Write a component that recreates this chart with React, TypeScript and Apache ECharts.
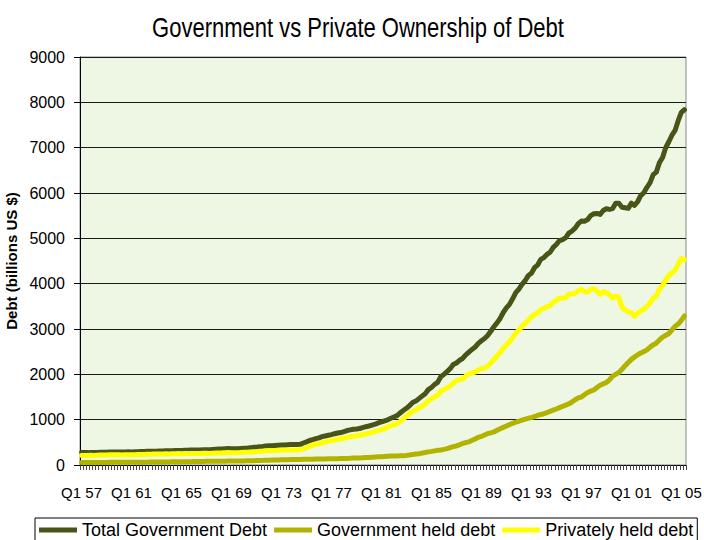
import React, { useEffect, useRef } from "react";
import * as echarts from "echarts";

const START_YEAR = 1957;
const N_QUARTERS = 194;

// Total Government Debt (billions US $), quarterly from Q1 1957
const totalDebt = [
  275, 274, 273, 277, 274, 277, 280, 283, 283, 287, 289, 288,
  287, 286, 288, 290, 289, 291, 294, 298, 298, 301, 303, 306,
  306, 309, 310, 313, 313, 316, 318, 321, 321, 323, 324, 329,
  329, 330, 333, 337, 337, 337, 344, 350, 351, 353, 357, 362,
  359, 358, 360, 366, 370, 372, 381, 389, 393, 403, 410, 419,
  422, 424, 430, 437, 440, 443, 446, 450, 453, 454, 456, 485,
  510, 540, 560, 580, 600, 625, 640, 655, 670, 690, 705, 715,
  735, 760, 775, 790, 795, 805, 826, 845, 860, 880, 900, 930,
  950, 975, 998, 1030, 1060, 1090, 1150, 1200, 1250, 1310, 1377, 1410,
  1465, 1520, 1573, 1663, 1710, 1775, 1823, 1945, 2000, 2060, 2125, 2215,
  2250, 2310, 2350, 2430, 2490, 2550, 2602, 2684, 2740, 2790, 2857, 2950,
  3050, 3135, 3233, 3364, 3466, 3545, 3665, 3801, 3881, 3985, 4064, 4177,
  4230, 4352, 4411, 4536, 4576, 4646, 4693, 4800, 4864, 4951, 4974, 5017,
  5117, 5161, 5225, 5323, 5380, 5376, 5413, 5502, 5542, 5548, 5526, 5614,
  5651, 5638, 5656, 5776, 5773, 5686, 5674, 5662, 5774, 5726, 5807, 5943,
  6006, 6126, 6228, 6405, 6460, 6670, 6783, 6998, 7131, 7274, 7379, 7596,
  7777, 7836,
];

// Government held debt
const govHeld = [
  55, 55, 56, 56, 56, 56, 57, 57, 57, 58, 58, 58,
  59, 59, 60, 60, 61, 61, 62, 62, 63, 63, 64, 64,
  65, 66, 66, 67, 68, 69, 70, 70, 71, 72, 73, 74,
  75, 76, 78, 79, 80, 81, 82, 83, 84, 85, 85, 86,
  86, 87, 87, 88, 90, 92, 94, 96, 98, 100, 102, 104,
  106, 108, 110, 112, 114, 116, 118, 120, 122, 123, 124, 125,
  126, 128, 129, 131, 132, 134, 135, 137, 138, 139, 140, 141,
  143, 146, 149, 152, 154, 157, 160, 164, 168, 172, 176, 180,
  184, 188, 192, 196, 198, 200, 202, 205, 212, 222, 234, 242,
  250, 262, 275, 290, 300, 312, 325, 332, 345, 360, 385, 405,
  420, 445, 475, 495, 510, 545, 575, 610, 630, 660, 690, 710,
  730, 765, 800, 830, 860, 890, 920, 945, 965, 990, 1010, 1030,
  1045, 1070, 1095, 1115, 1130, 1155, 1185, 1210, 1235, 1265, 1295, 1320,
  1350, 1390, 1440, 1480, 1500, 1550, 1600, 1630, 1655, 1710, 1760, 1790,
  1820, 1880, 1960, 2000, 2040, 2110, 2190, 2260, 2330, 2380, 2430, 2470,
  2500, 2540, 2600, 2650, 2690, 2760, 2820, 2860, 2900, 2980, 3060, 3110,
  3190, 3290,
];

// Privately held debt
const privHeld = [
  212, 211, 210, 214, 212, 215, 218, 221, 221, 225, 227, 226,
  224, 223, 224, 226, 225, 227, 230, 234, 234, 236, 238, 241,
  240, 242, 243, 246, 245, 247, 248, 251, 250, 251, 251, 255,
  254, 254, 255, 258, 257, 256, 262, 267, 267, 268, 272, 276,
  273, 271, 273, 278, 280, 280, 287, 293, 295, 303, 308, 315,
  316, 316, 320, 325, 326, 327, 328, 330, 331, 331, 332, 350,
  380, 410, 440, 455, 470, 490, 505, 525, 535, 550, 565, 580,
  590, 610, 620, 635, 645, 655, 668, 685, 700, 720, 740, 760,
  780, 800, 840, 870, 890, 910, 960, 1015, 1080, 1130, 1180, 1210,
  1260, 1300, 1340, 1420, 1460, 1500, 1540, 1630, 1655, 1700, 1740, 1810,
  1860, 1880, 1900, 1960, 2010, 2030, 2050, 2100, 2120, 2140, 2177, 2250,
  2330, 2400, 2480, 2570, 2650, 2720, 2810, 2910, 2980, 3060, 3120, 3200,
  3260, 3320, 3360, 3430, 3456, 3496, 3508, 3590, 3629, 3686, 3679, 3697,
  3767, 3771, 3785, 3843, 3880, 3826, 3813, 3872, 3887, 3838, 3766, 3824,
  3800, 3760, 3680, 3720, 3700, 3480, 3420, 3380, 3360, 3280, 3340, 3400,
  3440, 3500, 3580, 3680, 3720, 3880, 3960, 4080, 4180, 4240, 4300, 4420,
  4560, 4530,
];

const seriesNames = ["Total Government Debt", "Government held debt", "Privately held debt"];
const seriesColors = ["#4a5417", "#b2b300", "#ffff00"];
const TITLE = "Government vs Private Ownership of Debt";
const Y_NAME = "Debt (billions US $)";

const categories: string[] = [];
for (let i = 0; i < N_QUARTERS; i++) {
  const y = START_YEAR + Math.floor(i / 4);
  const q = (i % 4) + 1;
  categories.push(`Q${q} ${String(y % 100).padStart(2, "0")}`);
}

const FONT = "'Liberation Sans', Arial, sans-serif";

export default function App() {
  const ref = useRef<HTMLDivElement>(null);
  useEffect(() => {
    if (!ref.current) return;
    const chart = echarts.init(ref.current, undefined, { renderer: "svg" });
    const data = [totalDebt, govHeld, privHeld];
    chart.setOption({
      animation: false,
      backgroundColor: "#ffffff",
      textStyle: { fontFamily: FONT },
      graphic: [
        {
          type: "text",
          x: 358,
          y: 27,
          scaleY: 1.25,
          style: {
            text: TITLE,
            fontSize: 22,
            fontFamily: FONT,
            fill: "#000",
            align: "center",
            verticalAlign: "middle",
          },
        },
      ],
      grid: {
        left: 80,
        right: 18,
        top: 57,
        bottom: 75,
        containLabel: false,
        outerBoundsMode: "none",
        show: true,
        backgroundColor: "#eef7e3",
        borderColor: "#8a8a8a",
        borderWidth: 1,
      },
      legend: {
        left: 35,
        top: 518,
        width: 672,
        itemWidth: 38,
        itemHeight: 5,
        itemGap: 7,
        icon: "rect",
        padding: [3, 4, 12, 4],
        borderColor: "#000",
        borderWidth: 1,
        data: seriesNames,
        textStyle: { fontSize: 18, color: "#000", fontFamily: FONT },
      },
      xAxis: {
        type: "category",
        data: categories,
        boundaryGap: true,
        axisLine: { show: true, lineStyle: { color: "#000", width: 1 } },
        axisTick: { show: true, interval: 0, length: 5, lineStyle: { color: "#444" } },
        axisLabel: { interval: 15, margin: 20, fontSize: 15, color: "#000", fontFamily: FONT },
        splitLine: { show: false },
      },
      yAxis: {
        type: "value",
        min: 0,
        max: 9000,
        interval: 1000,
        name: Y_NAME,
        nameLocation: "middle",
        nameGap: 44,
        nameTextStyle: { fontWeight: "bold", fontSize: 15, color: "#000", fontFamily: FONT },
        axisLine: { show: true, lineStyle: { color: "#000", width: 1 } },
        axisTick: { show: true, length: 6, lineStyle: { color: "#000" } },
        axisLabel: {
          margin: 15,
          fontSize: 16,
          color: "#000",
          fontFamily: FONT,
          formatter: (v: number) => String(v),
        },
        splitLine: { show: true, lineStyle: { color: "#1a1a1a", width: 1 } },
      },
      series: seriesNames.map((name, i) => ({
        name,
        type: "line",
        data: data[i],
        showSymbol: false,
        symbol: "none",
        smooth: false,
        color: seriesColors[i],
        lineStyle: { color: seriesColors[i], width: 5, cap: "round", join: "round" },
      })),
    });
    return () => chart.dispose();
  }, []);
  return (
    <div
      ref={ref}
      style={{ position: "fixed", left: 0, top: 0, width: 704, height: 540 }}
    />
  );
}
